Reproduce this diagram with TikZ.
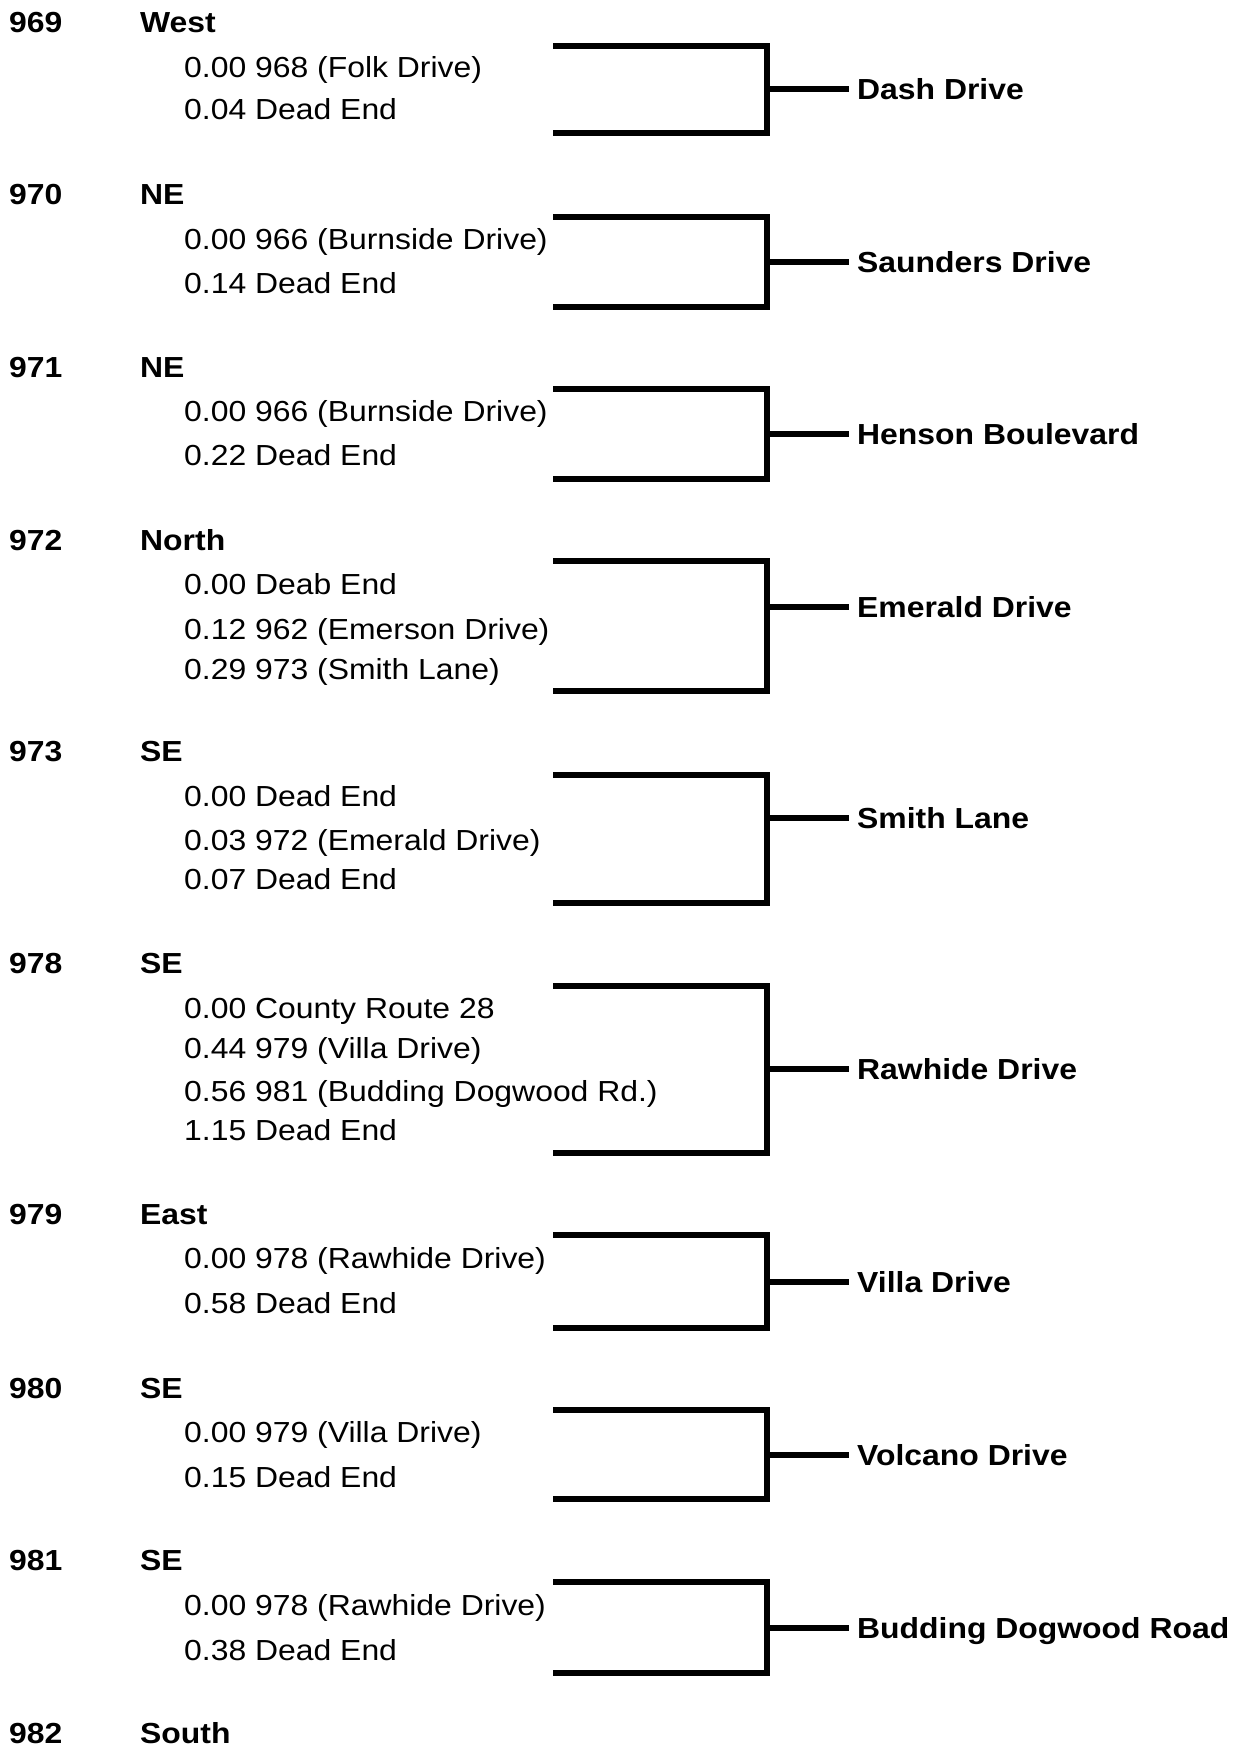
\documentclass[tikz,border=0pt]{standalone}
\usepackage{fontspec}
\setmainfont{Liberation Sans}[FakeStretch=1.1]
\begin{document}
\begin{tikzpicture}[x=1pt,y=-1pt,
  txt/.style={anchor=west,inner xsep=0pt,inner ysep=0pt,text height=20.8pt,text depth=0pt,font=\fontsize{29}{33}\selectfont},
  hdr/.style={txt,font=\fontsize{29}{33}\selectfont\bfseries},
  lbl/.style={hdr,inner xsep=8pt},
  brk/.style={line width=5.5pt,line join=miter},
  stub/.style={line width=5.5pt}]
\useasboundingbox[fill=white] (0,0) rectangle (1235,1748);

% 969
\node[hdr] (n969) at (9,22) {969};
\node[hdr] (d969) at (140,22) {West};
\node[txt] (e969a) at (184,67) {0.00 968 (Folk Drive)};
\node[txt] (e969b) at (184,109) {0.04 Dead End};
\coordinate (t969) at (553,46); \coordinate (tr969) at (767,46);
\coordinate (b969) at (553,133); \coordinate (br969) at (767,133);
\coordinate (m969) at (767,89);
\node[lbl] (l969) at (849,89) {Dash Drive};
\draw[brk] (t969) -- (tr969) -- (br969) -- (b969);
\draw[stub] (m969) -- (l969.west);

% 970
\node[hdr] (n970) at (9,194) {970};
\node[hdr] (d970) at (140,194) {NE};
\node[txt] (e970a) at (184,239) {0.00 966 (Burnside Drive)};
\node[txt] (e970b) at (184,283) {0.14 Dead End};
\coordinate (t970) at (553,217); \coordinate (tr970) at (767,217);
\coordinate (b970) at (553,307); \coordinate (br970) at (767,307);
\coordinate (m970) at (767,262);
\node[lbl] (l970) at (849,262) {Saunders Drive};
\draw[brk] (t970) -- (tr970) -- (br970) -- (b970);
\draw[stub] (m970) -- (l970.west);

% 971
\node[hdr] (n971) at (9,367) {971};
\node[hdr] (d971) at (140,367) {NE};
\node[txt] (e971a) at (184,411) {0.00 966 (Burnside Drive)};
\node[txt] (e971b) at (184,455) {0.22 Dead End};
\coordinate (t971) at (553,389); \coordinate (tr971) at (767,389);
\coordinate (b971) at (553,479); \coordinate (br971) at (767,479);
\coordinate (m971) at (767,434);
\node[lbl] (l971) at (849,434) {Henson Boulevard};
\draw[brk] (t971) -- (tr971) -- (br971) -- (b971);
\draw[stub] (m971) -- (l971.west);

% 972
\node[hdr] (n972) at (9,540) {972};
\node[hdr] (d972) at (140,540) {North};
\node[txt] (e972a) at (184,584) {0.00 Deab End};
\node[txt] (e972b) at (184,629) {0.12 962 (Emerson Drive)};
\node[txt] (e972c) at (184,669) {0.29 973 (Smith Lane)};
\coordinate (t972) at (553,561); \coordinate (tr972) at (767,561);
\coordinate (b972) at (553,691); \coordinate (br972) at (767,691);
\coordinate (m972) at (767,607);
\node[lbl] (l972) at (849,607) {Emerald Drive};
\draw[brk] (t972) -- (tr972) -- (br972) -- (b972);
\draw[stub] (m972) -- (l972.west);

% 973
\node[hdr] (n973) at (9,751) {973};
\node[hdr] (d973) at (140,751) {SE};
\node[txt] (e973a) at (184,796) {0.00 Dead End};
\node[txt] (e973b) at (184,840) {0.03 972 (Emerald Drive)};
\node[txt] (e973c) at (184,879) {0.07 Dead End};
\coordinate (t973) at (553,775); \coordinate (tr973) at (767,775);
\coordinate (b973) at (553,903); \coordinate (br973) at (767,903);
\coordinate (m973) at (767,818);
\node[lbl] (l973) at (849,818) {Smith Lane};
\draw[brk] (t973) -- (tr973) -- (br973) -- (b973);
\draw[stub] (m973) -- (l973.west);

% 978
\node[hdr] (n978) at (9,963) {978};
\node[hdr] (d978) at (140,963) {SE};
\node[txt] (e978a) at (184,1008) {0.00 County Route 28};
\node[txt] (e978b) at (184,1048) {0.44 979 (Villa Drive)};
\node[txt] (e978c) at (184,1091) {0.56 981 (Budding Dogwood Rd.)};
\node[txt] (e978d) at (184,1130) {1.15 Dead End};
\coordinate (t978) at (553,986); \coordinate (tr978) at (767,986);
\coordinate (b978) at (553,1153); \coordinate (br978) at (767,1153);
\coordinate (m978) at (767,1069);
\node[lbl] (l978) at (849,1069) {Rawhide Drive};
\draw[brk] (t978) -- (tr978) -- (br978) -- (b978);
\draw[stub] (m978) -- (l978.west);

% 979
\node[hdr] (n979) at (9,1214) {979};
\node[hdr] (d979) at (140,1214) {East};
\node[txt] (e979a) at (184,1258) {0.00 978 (Rawhide Drive)};
\node[txt] (e979b) at (184,1303) {0.58 Dead End};
\coordinate (t979) at (553,1235); \coordinate (tr979) at (767,1235);
\coordinate (b979) at (553,1328); \coordinate (br979) at (767,1328);
\coordinate (m979) at (767,1282);
\node[lbl] (l979) at (849,1282) {Villa Drive};
\draw[brk] (t979) -- (tr979) -- (br979) -- (b979);
\draw[stub] (m979) -- (l979.west);

% 980
\node[hdr] (n980) at (9,1388) {980};
\node[hdr] (d980) at (140,1388) {SE};
\node[txt] (e980a) at (184,1432) {0.00 979 (Villa Drive)};
\node[txt] (e980b) at (184,1477) {0.15 Dead End};
\coordinate (t980) at (553,1410); \coordinate (tr980) at (767,1410);
\coordinate (b980) at (553,1499); \coordinate (br980) at (767,1499);
\coordinate (m980) at (767,1455);
\node[lbl] (l980) at (849,1455) {Volcano Drive};
\draw[brk] (t980) -- (tr980) -- (br980) -- (b980);
\draw[stub] (m980) -- (l980.west);

% 981
\node[hdr] (n981) at (9,1560) {981};
\node[hdr] (d981) at (140,1560) {SE};
\node[txt] (e981a) at (184,1605) {0.00 978 (Rawhide Drive)};
\node[txt] (e981b) at (184,1650) {0.38 Dead End};
\coordinate (t981) at (553,1582); \coordinate (tr981) at (767,1582);
\coordinate (b981) at (553,1673); \coordinate (br981) at (767,1673);
\coordinate (m981) at (767,1628);
\node[lbl] (l981) at (849,1628) {Budding Dogwood Road};
\draw[brk] (t981) -- (tr981) -- (br981) -- (b981);
\draw[stub] (m981) -- (l981.west);

% 982
\node[hdr] (n982) at (9,1733) {982};
\node[hdr] (d982) at (140,1733) {South};
\end{tikzpicture}
\end{document}
